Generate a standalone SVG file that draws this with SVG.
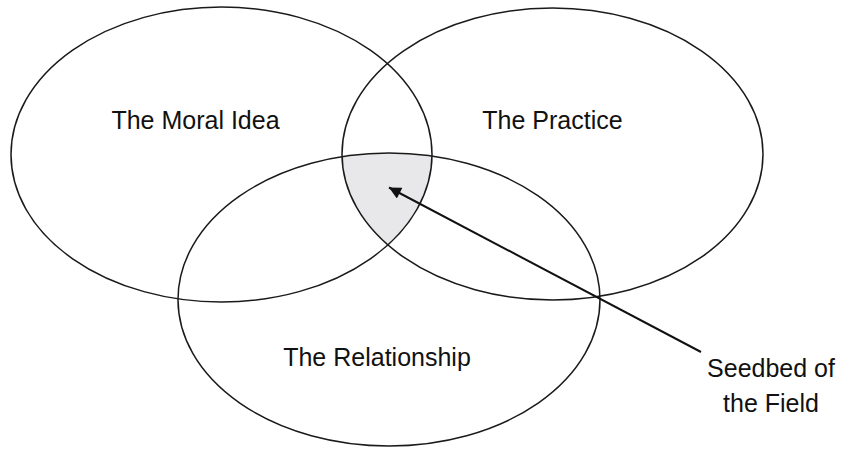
<svg xmlns="http://www.w3.org/2000/svg" width="849" height="450" viewBox="0 0 849 450">
<style>
.ring{fill:none;stroke:#1a1a1a;stroke-width:1.5}
.lbl{font-family:"Liberation Sans",Arial,sans-serif;font-size:25px;fill:#111;text-anchor:middle}
.conn{stroke:#111;stroke-width:2;fill:none}
</style>
<defs>
<clipPath id="cR"><ellipse cx="552.5" cy="154" rx="210.5" ry="146"/></clipPath>
<clipPath id="cB"><ellipse cx="389" cy="299.5" rx="211" ry="146.5"/></clipPath>
<marker id="ah" viewBox="0 0 10 10" refX="10" refY="5" markerWidth="7" markerHeight="6" markerUnits="strokeWidth" orient="auto">
<path d="M0,0 L10,5 L0,10 z" fill="#111"/>
</marker>
</defs>
<rect width="849" height="450" fill="#fff"/>
<g id="seedbed-shade" clip-path="url(#cR)">
<g clip-path="url(#cB)">
<ellipse cx="221.5" cy="154.5" rx="210.5" ry="147.5" fill="#e8e8ea"/>
</g>
</g>
<g id="moral-idea">
<ellipse class="ring" cx="221.5" cy="154.5" rx="210.5" ry="147.5"/>
<text class="lbl" x="195.5" y="129">The Moral Idea</text>
</g>
<g id="practice">
<ellipse class="ring" cx="552.5" cy="154" rx="210.5" ry="146"/>
<text class="lbl" x="552.5" y="129">The Practice</text>
</g>
<g id="relationship">
<ellipse class="ring" cx="389" cy="299.5" rx="211" ry="146.5"/>
<text class="lbl" x="377" y="366">The Relationship</text>
</g>
<g id="seedbed-label">
<text class="lbl" x="771" y="377">Seedbed of</text>
<text class="lbl" x="771" y="412">the Field</text>
</g>
<g id="connectors">
<line class="conn" x1="701" y1="352" x2="389" y2="187.5" marker-end="url(#ah)"/>
</g>
</svg>
